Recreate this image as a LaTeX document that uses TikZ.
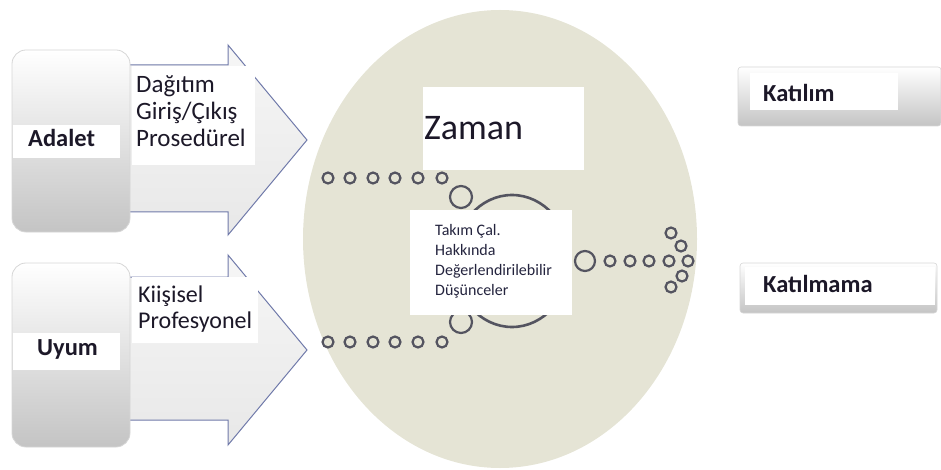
\documentclass[tikz,border=0pt]{standalone}
\usepackage{fontspec}
\setmainfont{Carlito}
\definecolor{ellfill}{RGB}{229,228,213}
\definecolor{arrowline}{RGB}{112,122,170}
\definecolor{arrowtop}{RGB}{246,246,246}
\definecolor{arrowbot}{RGB}{232,232,232}
\definecolor{boxline}{RGB}{214,214,214}
\definecolor{boxbot}{RGB}{196,196,196}
\definecolor{ringc}{RGB}{84,84,96}
\definecolor{txt}{RGB}{28,24,40}
\definecolor{smalltxt}{RGB}{36,36,62}
\tikzset{
  ellshape/.style={fill=ellfill},
  arrowshape/.style={draw=arrowline, line width=1pt, top color=arrowtop, bottom color=arrowbot},
  leftbox/.style={draw=boxline, line width=0.8pt, rounded corners=14pt, top color=white, bottom color=boxbot, minimum width=118pt, inner sep=0pt},
  rightbox/.style={draw=boxline, line width=0.6pt, rounded corners=3pt, top color=white, bottom color=boxbot, inner sep=0pt},
  whitebox/.style={fill=white, inner sep=0pt},
  boldlbl/.style={font=\fontsize{24.5}{28}\selectfont\bfseries, text=txt, inner sep=0pt},
  listtxt/.style={align=left, inner sep=0pt, text=txt},
  ringdot/.style={draw=ringc, line width=2.2pt},
  ringbig/.style={draw=ringc, line width=2.6pt},
}
\begin{document}
\begin{tikzpicture}[x=1pt,y=-1pt]
\useasboundingbox (0,0) rectangle (941,470);
% ellipse
\fill[ellshape] (500,239) ellipse [x radius=197pt, y radius=229pt];
% arrows
\draw[arrowshape] (120,65) -- (228,65) -- (228,45) -- (307,140) -- (228,235) -- (228,212) -- (120,212) -- cycle;
\draw[arrowshape] (120,277) -- (228,277) -- (228,255) -- (307,350) -- (228,445) -- (228,420) -- (120,420) -- cycle;
% left boxes
\node[leftbox, minimum height=182pt] (adaletbox) at (71,141) {};
\node[whitebox, minimum width=107pt, minimum height=33pt] (adaletstrip) at (66.5,141.5) {};
\node[boldlbl, anchor=base west] (adalet) at (28,147) {Adalet};
\node[leftbox, minimum height=184pt] (uyumbox) at (71,355) {};
\node[whitebox, minimum width=107pt, minimum height=37pt] (uyumstrip) at (66.5,351.5) {};
\node[boldlbl, anchor=base west] (uyum) at (37,355) {Uyum};
% arrow texts
\node[whitebox, minimum width=123pt, minimum height=99pt] (dbox) at (193.5,115.5) {};
\node[listtxt, anchor=north west, font=\fontsize{25}{27}\selectfont] (dtext) at (136,75.5) {Dağıtım\\Giriş/Çıkış\\Prosedürel};
\node[whitebox, minimum width=126pt, minimum height=66pt] (kbox) at (195,310) {};
\node[listtxt, anchor=north west, font=\fontsize{24}{26}\selectfont] (ktext) at (138,286) {Kiişisel\\Profesyonel};
% dotted rows
\foreach \x in {328,350,373,395,418,442} {
  \draw[ringdot] (\x,178) circle [radius=5.5pt];
  \draw[ringdot] (\x,342) circle [radius=5.5pt];
}
\draw[ringdot] (461,197) circle [radius=11pt];
\draw[ringdot] (461,322) circle [radius=11pt];
\draw[ringbig] (512,261) ellipse [x radius=58pt, y radius=66pt];
\draw[ringdot] (585,261) circle [radius=10pt];
\foreach \x in {610,630,649,669,688} {
  \draw[ringdot] (\x,261) circle [radius=5.5pt];
}
\foreach \p in {(671,233),(681,246),(682,276),(671,287)} {
  \draw[ringdot] \p circle [radius=5.5pt];
}
% Zaman
\node[whitebox, minimum width=161pt, minimum height=83pt] (zamanbox) at (503.5,128.5) {};
\node[anchor=base west, inner sep=0pt, text=txt, font=\fontsize{36}{40}\selectfont] (zaman) at (424,140) {Zaman};
% centre text
\node[whitebox, minimum width=162pt, minimum height=105pt] (tbox) at (491,262.5) {};
\node[listtxt, anchor=north west, text=smalltxt, font=\fontsize{16}{20}\selectfont] (ttext) at (435,223.8) {Takım Çal.\\Hakkında\\Değerlendirilebilir\\Düşünceler};
% right boxes
\node[rightbox, minimum width=203pt, minimum height=59pt] (katbox) at (839.5,96.5) {};
\node[whitebox, minimum width=148pt, minimum height=37pt] (katstrip) at (824,91.5) {};
\node[boldlbl, anchor=base west] (katilim) at (763,102) {Katılım};
\node[rightbox, minimum width=197pt, minimum height=50pt] (kmbox) at (838.5,288) {};
\node[whitebox, minimum width=190pt, minimum height=38pt] (kmstrip) at (840,286) {};
\node[boldlbl, anchor=base west] (katilmama) at (763,292) {Katılmama};
\end{tikzpicture}
\end{document}
